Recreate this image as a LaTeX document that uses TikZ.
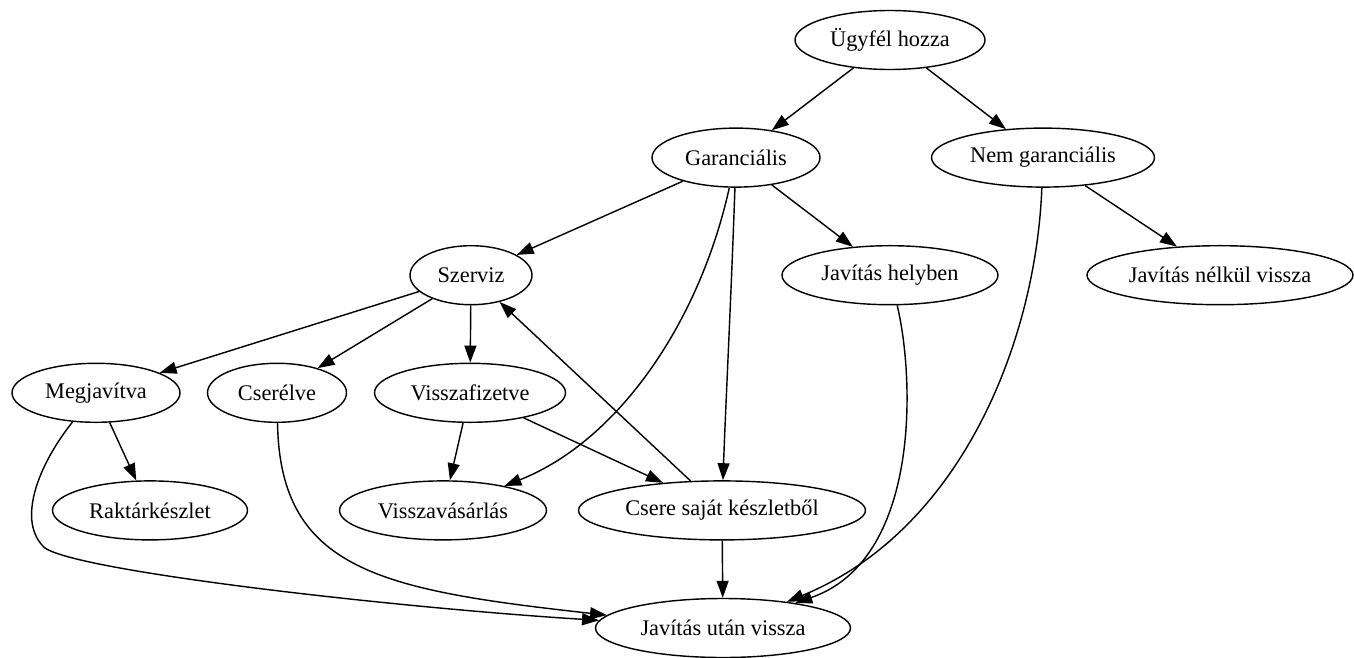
\documentclass[tikz,border=0pt]{standalone}
\usepackage{fontspec}
\setmainfont{Liberation Serif}
\usetikzlibrary{arrows.meta,shapes.geometric}
\begin{document}
\begin{tikzpicture}[x=0.6pt,y=-0.6pt,
  nd/.style={draw, ellipse, line width=0.85pt, minimum height=35.4pt, inner sep=0pt,
    font=\fontsize{13.4}{15}\selectfont},
  arr/.style={-{Triangle[length=10.2pt,width=7.2pt]}, line width=0.85pt}]
\useasboundingbox (0,0) rectangle (1354,657);
% nodes
\node[nd, minimum width=114pt]   (u)   at (890,40)    {Ügyfél hozza};
\node[nd, minimum width=100.8pt] (g)   at (736,157.6) {Garanciális};
\node[nd, minimum width=133.8pt] (ng)  at (1043,157.6) {Nem garanciális};
\node[nd, minimum width=73.2pt]  (sz)  at (471,275.2) {Szerviz};
\node[nd, minimum width=129.6pt] (jh)  at (890,275.2) {Javítás helyben};
\node[nd, minimum width=159.6pt] (jnv) at (1220,275.2) {Javítás nélkül vissza};
\node[nd, minimum width=100.8pt] (m)   at (96,392.8)  {Megjavítva};
\node[nd, minimum width=83.4pt]  (cs)  at (277,392.8) {Cserélve};
\node[nd, minimum width=114.6pt] (vf)  at (470,392.8) {Visszafizetve};
\node[nd, minimum width=117pt]   (r)   at (150,510.4) {Raktárkészlet};
\node[nd, minimum width=124.2pt] (vv)  at (443,510.4) {Visszavásárlás};
\node[nd, minimum width=172.2pt] (csk) at (722,510.4) {Csere saját készletből};
\node[nd, minimum width=153pt]   (juv) at (723,628)   {Javítás után vissza};
% edges
\draw[arr] (u) -- (g);
\draw[arr] (u) -- (ng);
\draw[arr] (g) -- (sz);
\draw[arr] (g) -- (jh);
\draw[arr] (g) .. controls (700,320) and (620,440) .. (vv);
\draw[arr] (g) .. controls (731,300) and (725,420) .. (csk);
\draw[arr] (ng) -- (jnv);
\draw[arr] (ng) .. controls (1036,340) and (962,530) .. (juv);
\draw[arr] (sz) -- (m);
\draw[arr] (sz) -- (cs);
\draw[arr] (sz) -- (vf);
\draw[arr] (csk) -- (sz);
\draw[arr] (vf) -- (vv);
\draw[arr] (vf) -- (csk);
\draw[arr] (m) -- (r);
\draw[arr] (m) .. controls (38,465) and (16,522) .. (45,548) .. controls (80,572) and (400,608) .. (juv);
\draw[arr] (cs) .. controls (280,570) and (380,590) .. (juv);
\draw[arr] (jh) .. controls (915,380) and (920,560) .. (juv);
\draw[arr] (csk) -- (juv);
\end{tikzpicture}
\end{document}
